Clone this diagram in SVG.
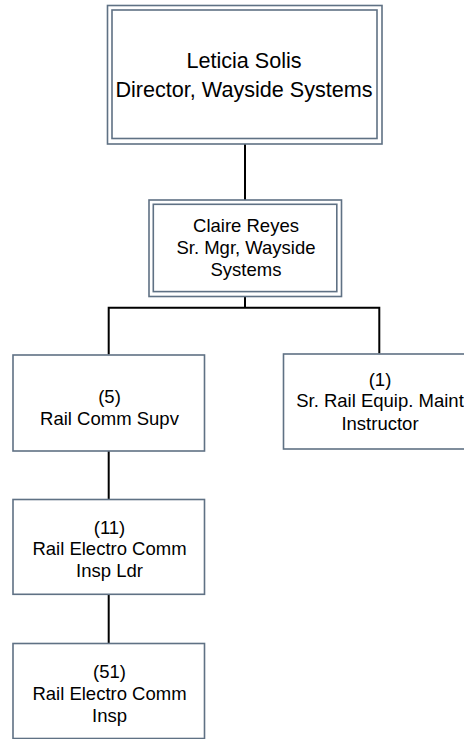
<svg xmlns="http://www.w3.org/2000/svg" width="464" height="739" viewBox="0 0 464 739">
<style>
.box{fill:#ffffff;stroke:#5f7184;stroke-width:1.6}
.conn{fill:none;stroke:#000000;stroke-width:2}
text{font-family:"Liberation Sans",Arial,sans-serif;fill:#000000;text-anchor:middle}
.big{font-size:21.6px}
.mid{font-size:18.5px}
</style>
<rect width="464" height="739" fill="#ffffff"/>
<g id="connectors">
<path class="conn" d="M245,144 V200"/>
<path class="conn" d="M245,296.5 V307.7 M108.7,354.5 V307.7 H379.3 V353.5"/>
<path class="conn" d="M108.7,451 V499.5"/>
<path class="conn" d="M108.7,594.3 V643.5"/>
</g>
<g id="node-leticia">
<rect class="box" x="107.5" y="5.5" width="274.5" height="138.5"/>
<rect class="box" x="112" y="10" width="265" height="128.5"/>
<text class="big" x="244" y="68.3">Leticia Solis</text>
<text class="big" x="244" y="96.5">Director, Wayside Systems</text>
</g>
<g id="node-claire">
<rect class="box" x="149" y="200" width="192.5" height="96.5"/>
<rect class="box" x="153.3" y="204.3" width="183.5" height="87.3"/>
<text class="mid" x="246" y="232.3">Claire Reyes</text>
<text class="mid" x="246" y="254">Sr. Mgr, Wayside</text>
<text class="mid" x="246" y="275.7">Systems</text>
</g>
<g id="node-supv">
<rect class="box" x="13" y="355" width="191.5" height="96"/>
<text class="mid" x="109.5" y="403.3">(5)</text>
<text class="mid" x="109.5" y="425">Rail Comm Supv</text>
</g>
<g id="node-instructor">
<rect class="box" x="283.5" y="354" width="191" height="95"/>
<text class="mid" x="380" y="385.7">(1)</text>
<text class="mid" x="380" y="407">Sr. Rail Equip. Maint</text>
<text class="mid" x="380" y="430">Instructor</text>
</g>
<g id="node-insp-ldr">
<rect class="box" x="13" y="499.5" width="191.5" height="94.8"/>
<text class="mid" x="109.5" y="534">(11)</text>
<text class="mid" x="109.5" y="555">Rail Electro Comm</text>
<text class="mid" x="109.5" y="576.7">Insp Ldr</text>
</g>
<g id="node-insp">
<rect class="box" x="13" y="643.5" width="191.5" height="95"/>
<text class="mid" x="109.5" y="678.3">(51)</text>
<text class="mid" x="109.5" y="700">Rail Electro Comm</text>
<text class="mid" x="109.5" y="721.7">Insp</text>
</g>
</svg>
